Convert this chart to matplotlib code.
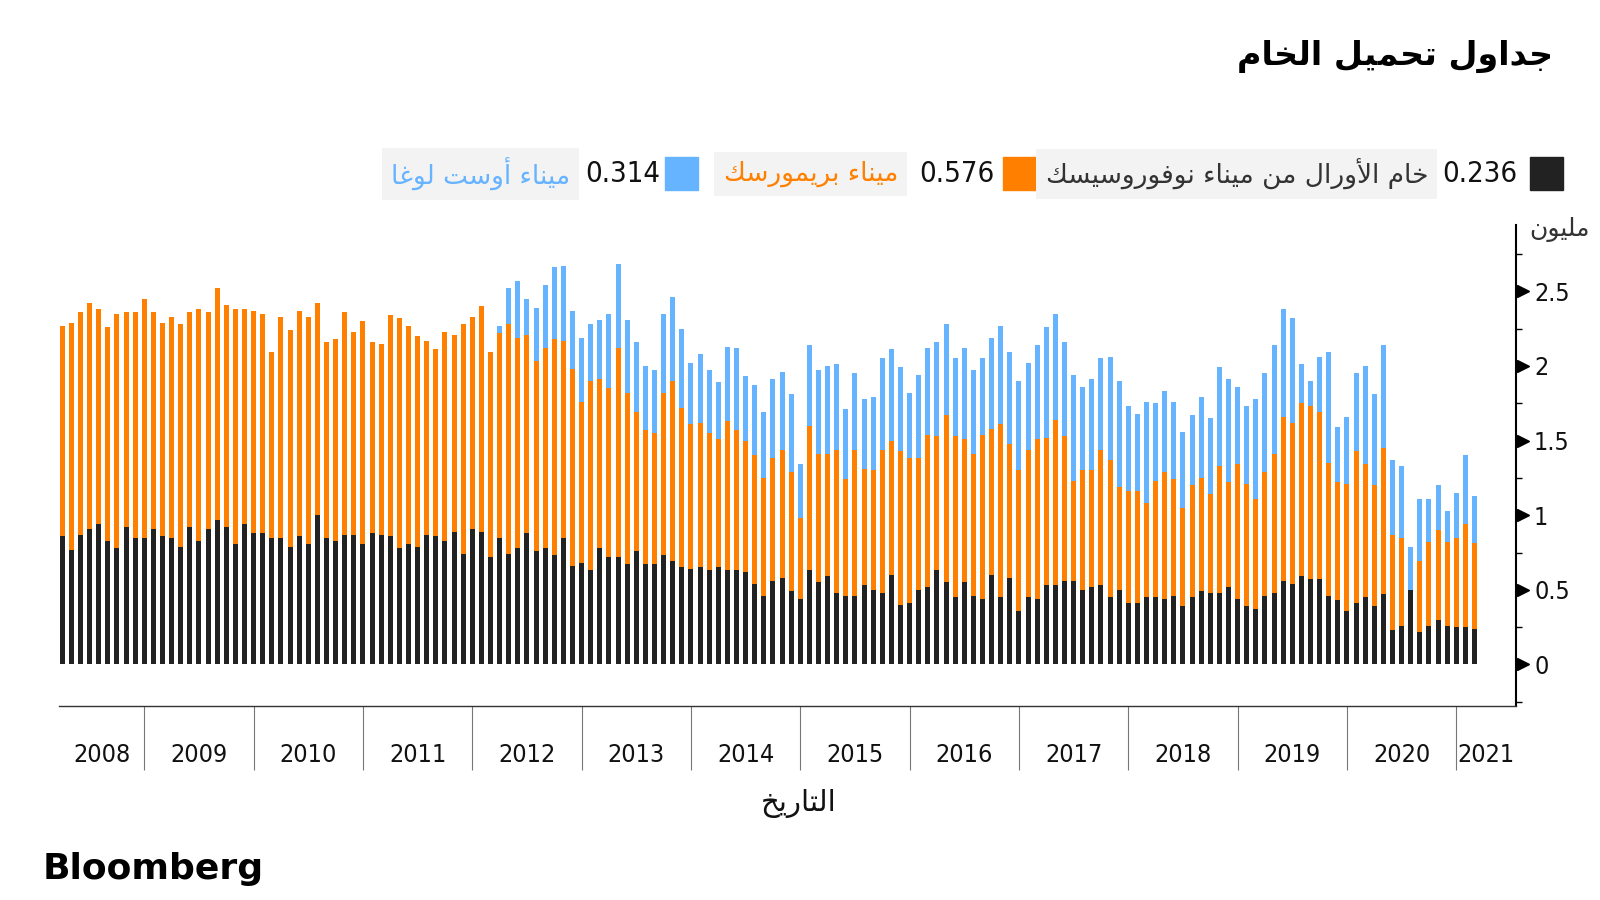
import numpy as np
import pandas as pd
import matplotlib
matplotlib.use("Agg")
import matplotlib.pyplot as plt
from matplotlib import font_manager
from matplotlib.patches import Rectangle

# monthly crude loadings, million (Apr 2008 .. Mar 2021)
urals_novorossiysk = [
    0.86, 0.77, 0.87, 0.91, 0.94, 0.83, 0.78, 0.92, 0.85, 0.85, 0.91, 0.86, 0.85, 0.79,
    0.92, 0.83, 0.91, 0.97, 0.92, 0.81, 0.94, 0.88, 0.88, 0.85, 0.85, 0.79, 0.86, 0.81,
    1.00, 0.85, 0.83, 0.87, 0.87, 0.81, 0.88, 0.87, 0.86, 0.78, 0.81, 0.79, 0.87, 0.86,
    0.83, 0.89, 0.74, 0.91, 0.89, 0.72, 0.85, 0.74, 0.78, 0.88, 0.76, 0.78, 0.73, 0.85,
    0.66, 0.68, 0.63, 0.78, 0.72, 0.72, 0.67, 0.76, 0.67, 0.67, 0.73, 0.69, 0.65, 0.64,
    0.65, 0.63, 0.65, 0.63, 0.63, 0.62, 0.54, 0.46, 0.56, 0.58, 0.49, 0.44, 0.63,
    0.55, 0.59, 0.48, 0.46, 0.46, 0.53, 0.50, 0.48, 0.60, 0.40, 0.41, 0.50, 0.52, 0.63,
    0.55, 0.45, 0.55, 0.46, 0.44, 0.60, 0.45, 0.58, 0.36, 0.45, 0.44, 0.53, 0.53, 0.56,
    0.56, 0.50, 0.52, 0.53, 0.45, 0.50, 0.41, 0.41, 0.45, 0.45, 0.44, 0.46, 0.39, 0.45,
    0.49, 0.48, 0.48, 0.52, 0.44, 0.39, 0.37, 0.46, 0.48, 0.56, 0.54, 0.59, 0.57,
    0.57, 0.46, 0.43, 0.36, 0.41, 0.45, 0.39, 0.47, 0.23, 0.26, 0.50, 0.22, 0.26, 0.30,
    0.26, 0.25, 0.25, 0.236,
]
primorsk = [
    1.41, 1.52, 1.49, 1.51, 1.44, 1.43, 1.57, 1.44, 1.51, 1.60, 1.45, 1.43, 1.48, 1.49,
    1.44, 1.55, 1.45, 1.55, 1.49, 1.57, 1.44, 1.49, 1.47, 1.24, 1.48, 1.45, 1.51, 1.52,
    1.42, 1.31, 1.35, 1.49, 1.36, 1.49, 1.28, 1.28, 1.48, 1.54, 1.46, 1.41, 1.30, 1.25,
    1.40, 1.32, 1.54, 1.42, 1.51, 1.37, 1.37, 1.54, 1.41, 1.33, 1.27, 1.34, 1.45, 1.32,
    1.32, 1.08, 1.27, 1.13, 1.13, 1.40, 1.15, 0.93, 0.90, 0.88, 1.09, 1.21, 1.07, 0.97,
    0.97, 0.92, 0.86, 1.00, 0.94, 0.88, 0.86, 0.79, 0.82, 0.86, 0.80, 0.54, 0.97,
    0.86, 0.82, 0.96, 0.78, 0.98, 0.78, 0.80, 0.96, 0.90, 1.03, 0.97, 0.88, 1.02, 0.90,
    1.12, 1.08, 0.96, 0.95, 1.10, 0.98, 1.16, 0.90, 0.94, 0.99, 1.07, 0.99, 1.11, 0.97,
    0.67, 0.80, 0.78, 0.91, 0.92, 0.69, 0.75, 0.75, 0.63, 0.78, 0.85, 0.78, 0.66, 0.75,
    0.76, 0.66, 0.85, 0.70, 0.90, 0.82, 0.74, 0.83, 0.93, 1.10, 1.08, 1.16, 1.16,
    1.12, 0.89, 0.79, 0.85, 1.02, 0.89, 0.81, 0.98, 0.64, 0.59, 0.00, 0.47, 0.56, 0.60,
    0.56, 0.60, 0.69, 0.576,
]
ust_luga = [0.0] * 48 + [
    0.05, 0.24, 0.38, 0.24, 0.36, 0.42, 0.48, 0.50,
    0.39, 0.43, 0.38, 0.40, 0.50, 0.56, 0.49, 0.47, 0.43, 0.42, 0.53, 0.56, 0.53, 0.41,
    0.46, 0.42, 0.38, 0.50, 0.55, 0.43, 0.47, 0.44, 0.53, 0.52, 0.52, 0.36, 0.54,
    0.56, 0.59, 0.57, 0.47, 0.51, 0.47, 0.49, 0.61, 0.61, 0.56, 0.44, 0.56, 0.58, 0.63,
    0.61, 0.52, 0.61, 0.56, 0.51, 0.61, 0.66, 0.61, 0.60, 0.58, 0.63, 0.74, 0.71, 0.63,
    0.71, 0.56, 0.61, 0.61, 0.69, 0.71, 0.57, 0.52, 0.68, 0.52, 0.54, 0.52, 0.51, 0.47,
    0.54, 0.51, 0.66, 0.69, 0.52, 0.52, 0.67, 0.66, 0.73, 0.72, 0.70, 0.26, 0.17,
    0.37, 0.74, 0.37, 0.45, 0.52, 0.66, 0.61, 0.69, 0.50, 0.48, 0.29, 0.42, 0.29, 0.30,
    0.21, 0.30, 0.46, 0.314,
]
y_ticks = [0, 0.5, 1, 1.5, 2, 2.5]

title = "جداول تحميل الخام"
series_names = ["خام الأورال من ميناء نوفوروسيسك", "ميناء بريمورسك", "ميناء أوست لوغا"]
unit_label = "مليون"
x_label = "التاريخ"

BLACK, ORANGE, BLUE = "#222222", "#FF8000", "#66B3FF"

# matplotlib has no arabic shaping: map letters to presentation forms and reverse
FORMS = {
    "\u0621": ("\uFE80", None, None, None),
    "\u0623": ("\uFE83", "\uFE84", None, None),
    "\u0627": ("\uFE8D", "\uFE8E", None, None),
    "\u0628": ("\uFE8F", "\uFE90", "\uFE91", "\uFE92"),
    "\u062A": ("\uFE95", "\uFE96", "\uFE97", "\uFE98"),
    "\u062C": ("\uFE9D", "\uFE9E", "\uFE9F", "\uFEA0"),
    "\u062D": ("\uFEA1", "\uFEA2", "\uFEA3", "\uFEA4"),
    "\u062E": ("\uFEA5", "\uFEA6", "\uFEA7", "\uFEA8"),
    "\u062F": ("\uFEA9", "\uFEAA", None, None),
    "\u0631": ("\uFEAD", "\uFEAE", None, None),
    "\u0633": ("\uFEB1", "\uFEB2", "\uFEB3", "\uFEB4"),
    "\u063A": ("\uFECD", "\uFECE", "\uFECF", "\uFED0"),
    "\u0641": ("\uFED1", "\uFED2", "\uFED3", "\uFED4"),
    "\u0643": ("\uFED9", "\uFEDA", "\uFEDB", "\uFEDC"),
    "\u0644": ("\uFEDD", "\uFEDE", "\uFEDF", "\uFEE0"),
    "\u0645": ("\uFEE1", "\uFEE2", "\uFEE3", "\uFEE4"),
    "\u0646": ("\uFEE5", "\uFEE6", "\uFEE7", "\uFEE8"),
    "\u0648": ("\uFEED", "\uFEEE", None, None),
    "\u064A": ("\uFEF1", "\uFEF2", "\uFEF3", "\uFEF4"),
}
LAM_ALEF = {"\u0623": ("\uFEF7", "\uFEF8"), "\u0627": ("\uFEFB", "\uFEFC")}


def shape(text):
    items = []
    i = 0
    while i < len(text):
        if text[i] == "\u0644" and i + 1 < len(text) and text[i + 1] in LAM_ALEF:
            items.append(("LA", text[i + 1]))
            i += 2
        else:
            items.append(text[i])
            i += 1

    def joins_next(it):
        return not isinstance(it, tuple) and it in FORMS and FORMS[it][2] is not None

    def joins_prev(it):
        return isinstance(it, tuple) or (it in FORMS and FORMS[it][1] is not None)

    out = []
    for k, it in enumerate(items):
        p = k > 0 and joins_next(items[k - 1]) and joins_prev(it)
        n = k + 1 < len(items) and joins_next(it) and joins_prev(items[k + 1])
        if isinstance(it, tuple):
            out.append(LAM_ALEF[it[1]][1] if p else LAM_ALEF[it[1]][0])
        elif it not in FORMS:
            out.append(it)
        else:
            f = FORMS[it]
            out.append(f[3] if p and n else f[1] if p else f[2] if n else f[0])
    return "".join(reversed(out))


# narrow face for the numbers if one is installed
fonts = font_manager.fontManager.ttflist
names = {f.name for f in fonts}
if "Liberation Sans Narrow" in names:
    NUM = dict(family="Liberation Sans Narrow")
elif any(f.name == "DejaVu Sans" and f.stretch == "condensed" for f in fonts):
    NUM = dict(family="DejaVu Sans", stretch="condensed")
else:
    NUM = dict(family="Roboto")
AR_FONT = "DejaVu Sans"

urals = np.array(urals_novorossiysk)
prim = np.array(primorsk)
luga = np.array(ust_luga)
months = pd.date_range("2008-04-01", periods=len(urals), freq="MS")
x = np.arange(len(months))

fig = plt.figure(figsize=(16, 9), dpi=100)
ax = fig.add_axes([0.0369, 0.2156, 0.9106, 0.5344])

ax.bar(x, urals, width=0.55, color=BLACK)
ax.bar(x, prim, width=0.55, bottom=urals, color=ORANGE)
ax.bar(x, luga, width=0.55, bottom=urals + prim, color=BLUE)

x_left, x_right = -0.36, 159.56
ax.set_xlim(x_left, x_right)
ax.set_ylim(-0.278, 2.944)

# year separators and centred year labels
jan = x[months.month == 1]
edges = np.concatenate([[x_left], jan, [x_right]])
centers = (edges[:-1] + edges[1:]) / 2
years = sorted(set(months.year))
ax.set_xticks(jan, minor=True)
ax.set_xticks(centers)
ax.set_xticklabels([str(y) for y in years], **NUM)
ax.tick_params(axis="x", which="major", length=0, pad=27, labelsize=18, labelcolor="#111")
ax.tick_params(axis="x", which="minor", length=46, width=0.8, color="#777")

# y axis on the right with triangle markers
ax.yaxis.tick_right()
ax.set_yticks(y_ticks)
ax.set_yticklabels([f"{v:g}" for v in y_ticks], **NUM)
ax.set_yticks(np.arange(-0.25, 2.9, 0.5), minor=True)
ax.tick_params(axis="y", which="major", length=0, pad=13, labelsize=18, labelcolor="#111")
ax.tick_params(axis="y", which="minor", length=4.5, width=1, color="black")
ax.plot([1.0045] * len(y_ticks), y_ticks, ls="none", marker=">", ms=8, color="black",
        transform=ax.get_yaxis_transform(), clip_on=False)

for side in ["left", "top"]:
    ax.spines[side].set_visible(False)
ax.spines["right"].set_linewidth(1.5)
ax.spines["bottom"].set_color("#333")
ax.spines["bottom"].set_linewidth(1)

fig.text(1590 / 1600, 1 - 229 / 900, shape(unit_label), ha="right", va="center",
         fontsize=18, color="#333", family=AR_FONT)
fig.text(799 / 1600, 1 - 804 / 900, shape(x_label), ha="center", va="center",
         fontsize=21, color="#111", family=AR_FONT)

# title
fig.text(1553 / 1600, 1 - 56 / 900, shape(title), ha="right", va="center",
         fontsize=24, fontweight="bold", color="black", family=AR_FONT)

# legend with latest values
latest = [urals[-1], prim[-1], luga[-1]]
colors = [BLACK, ORANGE, BLUE]
text_colors = ["#333333", ORANGE, BLUE]
square_left = [1530, 1003, 665]
value_right = [1517, 995, 660]
label_right = [1428, 898, 570]
ly = 1 - 174 / 900
for name, val, c, tc, sq, vr, lr in zip(series_names, latest, colors, text_colors,
                                        square_left, value_right, label_right):
    fig.patches.append(Rectangle((sq / 1600, 1 - 190 / 900), 33 / 1600, 33 / 900,
                                 transform=fig.transFigure, color=c))
    fig.text(vr / 1600, ly, f"{val:.3f}", ha="right", va="center", fontsize=21,
             color="#111", **NUM)
    fig.text(lr / 1600, ly, shape(name), ha="right", va="center", fontsize=19, color=tc,
             family=AR_FONT,
             bbox=dict(boxstyle="square,pad=0.35", fc="#F3F3F3", ec="none"))

fig.text(43 / 1600, 1 - 869 / 900, "Bloomberg", ha="left", va="center", fontsize=26,
         fontweight="bold", color="black", family="DejaVu Sans")

fig.savefig("out.png", dpi=100)
